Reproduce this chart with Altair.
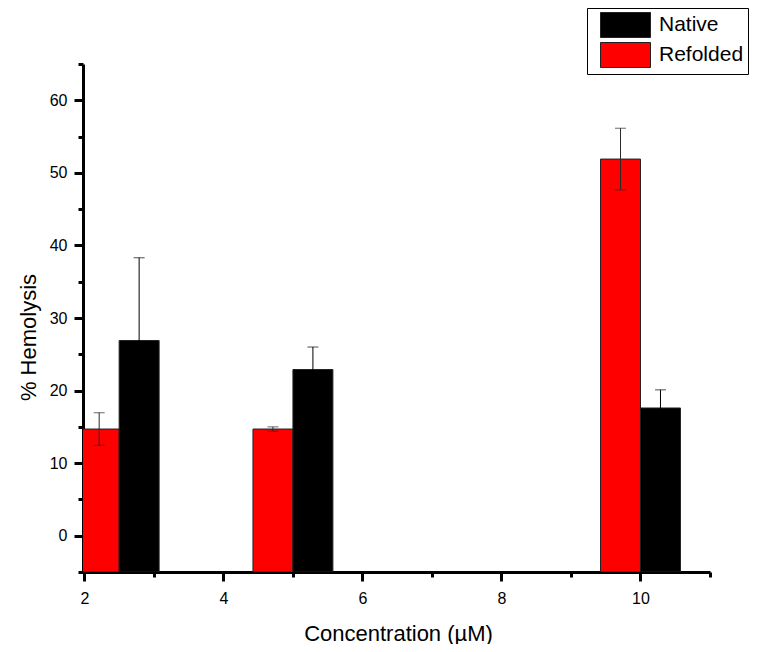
import altair as alt
import pandas as pd

# Data
conc = [2.5, 5, 10]
native = [26.9, 22.9, 17.6]
native_err = [11.4, 3.1, 2.5]
refolded = [14.7, 14.7, 51.9]
refolded_err = [2.25, 0.3, 4.25]
series_names = ["Native", "Refolded"]
series_colors = ["#000000", "#ff0000"]
x_major = [2, 4, 6, 8, 10]
x_minor = [3, 5, 7, 9, 11]
y_major = [0, 10, 20, 30, 40, 50, 60]
y_minor = [-5, 5, 15, 25, 35, 45, 55, 65]

BAR_W = 0.575

rows = []
for c, v, e in zip(conc, refolded, refolded_err):
    rows.append(dict(series="Refolded", conc=c, value=v, x0=c - BAR_W, x1=c,
                     xc=c - BAR_W / 2, lo=v - e, hi=v + e))
for c, v, e in zip(conc, native, native_err):
    rows.append(dict(series="Native", conc=c, value=v, x0=c, x1=c + BAR_W,
                     xc=c + BAR_W / 2, lo=v - e, hi=v + e))
df = pd.DataFrame(rows)

xscale = alt.Scale(domain=[1.98, 11], nice=False, zero=False)
yscale = alt.Scale(domain=[-5, 65], nice=False, zero=False)

xaxis = alt.Axis(
    title="Concentration (\u00b5M)", values=x_major, format="d", orient="bottom",
    labelOverlap=False, tickSize=9, labelPadding=9, titleX=315, titleY=68,
    titleBaseline="alphabetic", titleAlign="center",
)
yaxis = alt.Axis(
    title="% Hemolysis", values=y_major, format="d", orient="left",
    labelOverlap=False, tickSize=9, labelPadding=7, titleX=-48, titleY=273,
    titleBaseline="alphabetic", titleAngle=-90, titleAlign="center",
)
xaxis_minor = alt.Axis(title=None, values=x_minor, labels=False, domain=False,
                       tickSize=5, orient="bottom")
yaxis_minor = alt.Axis(title=None, values=y_minor, labels=False, domain=False,
                       tickSize=5, orient="left")

color = alt.Color(
    "series:N",
    scale=alt.Scale(domain=series_names, range=series_colors),
    legend=alt.Legend(
        title=None, orient="none", legendX=504, legendY=-56,
        symbolType="M-2,-1H2V1H-2Z", symbolSize=625,
        symbolStrokeColor="#222222", symbolStrokeWidth=1,
        symbolOpacity=1,
        symbolOffset=21.5, labelOffset=20.5,
        labelFont="Arial", labelFontSize=21, labelColor="#000000",
        padding=4, rowPadding=0, fillColor="white", strokeColor="black",
    ),
)

base = alt.Chart(df)

bars = base.mark_bar(stroke="#222222", strokeWidth=1, clip=True).encode(
    x=alt.X("x0:Q", scale=xscale, axis=xaxis),
    x2="x1:Q",
    y=alt.Y("value:Q", scale=yscale, axis=yaxis),
    y2=alt.datum(-5),
    color=color,
)

err_color = alt.condition(alt.datum.series == "Native",
                          alt.value("#000000"), alt.value("#2a2a2a"))

err = base.mark_rule(strokeWidth=1).encode(
    x=alt.X("xc:Q", scale=xscale, axis=xaxis_minor),
    y=alt.Y("lo:Q", scale=yscale, axis=yaxis_minor),
    y2="hi:Q",
    color=err_color,
)
cap_hi = base.mark_tick(orient="horizontal", size=11, thickness=1).encode(
    x=alt.X("xc:Q", scale=xscale, axis=None),
    y=alt.Y("hi:Q", scale=yscale, axis=None),
    color=err_color,
)
cap_lo = base.mark_tick(orient="horizontal", size=11, thickness=1).encode(
    x=alt.X("xc:Q", scale=xscale, axis=None),
    y=alt.Y("lo:Q", scale=yscale, axis=None),
    color=err_color,
)

chart = alt.layer(bars, err, cap_hi, cap_lo).resolve_axis(
    x="independent", y="independent"
).properties(
    width=627, height=508,
    autosize=alt.AutoSizeParams(type="none"),
    padding={"left": 75, "top": 56, "right": 45, "bottom": 72},
).configure_axis(
    domainColor="black", domainWidth=3, tickColor="black", tickWidth=3,
    labelFont="Arial", labelFontSize=16, labelColor="black",
    titleFont="Arial", titleFontSize=22, titleFontWeight="normal", titleColor="black",
    grid=False,
).configure_view(stroke=None)

chart.save("out.html", embed_options={"renderer": "svg", "actions": False})
